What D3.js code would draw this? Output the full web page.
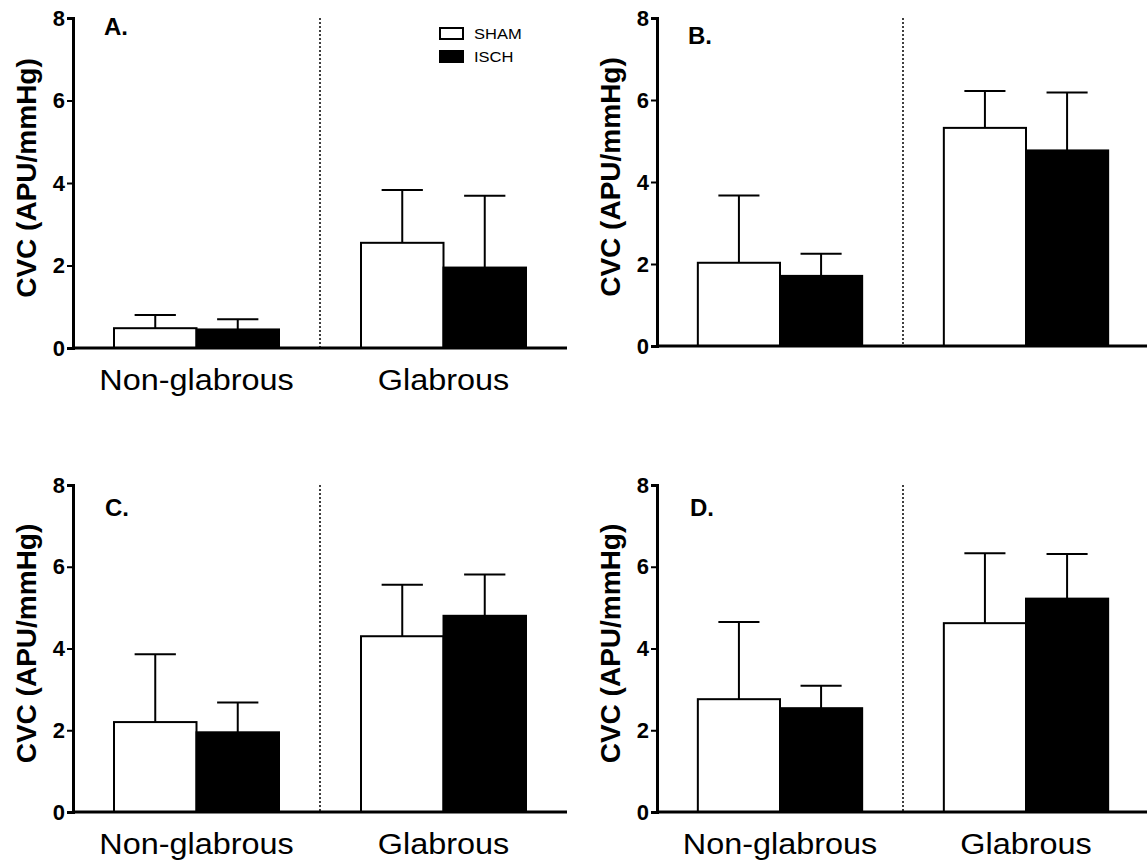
<!DOCTYPE html>
<html lang="en">
<head>
    <meta charset="UTF-8">
    <title>CVC by site</title>
    <script src="https://cdn.jsdelivr.net/npm/d3@7"></script>
    <style>
        body { margin: 0; background: #fff; font-family: "Liberation Sans", Arial, Helvetica, sans-serif; }
        svg { display: block; }
    </style>
</head>
<body>
<script>
    // data
    var sites = ["Non-glabrous", "Glabrous"];
    var groups = ["SHAM", "ISCH"];
    var panelLabels = ["A.", "B.", "C.", "D."];
    var yTicks = [0, 2, 4, 6, 8];

    // mean values, [panel][site] -> [SHAM, ISCH]
    var meanA = [[0.48, 0.45], [2.55, 1.95]];
    var meanB = [[2.03, 1.71], [5.32, 4.77]];
    var meanC = [[2.20, 1.95], [4.30, 4.80]];
    var meanD = [[2.76, 2.54], [4.62, 5.22]];
    // top of the error bar (mean + SD)
    var errA = [[0.80, 0.70], [3.83, 3.69]];
    var errB = [[3.67, 2.25], [6.22, 6.18]];
    var errC = [[3.86, 2.68], [5.56, 5.81]];
    var errD = [[4.65, 3.09], [6.33, 6.31]];

    var means = [meanA, meanB, meanC, meanD];
    var errs = [errA, errB, errC, errD];

    // panel layout (axis origin etc.)
    var panels = [
        {x0: 73, x1: 567, top: 18, bottom: 348, lx: 104, ly: 35, cats: true, legend: true},
        {x0: 657, x1: 1149, top: 18, bottom: 346, lx: 688, ly: 44, cats: false, legend: false},
        {x0: 73, x1: 567, top: 485, bottom: 812, lx: 105, ly: 516, cats: true, legend: false},
        {x0: 657, x1: 1149, top: 485, bottom: 812, lx: 690, ly: 516, cats: true, legend: false}
    ];

    var svg = d3.select("body").append("svg")
        .attr("width", 1147)
        .attr("height", 867);

    panels.forEach(function(p, i) {
        var g = svg.append("g");

        var x = d3.scaleBand().domain(sites).range([p.x0, p.x1]).padding(0);
        var xs = d3.scaleBand().domain(groups)
            .range([x.bandwidth() * 0.166, x.bandwidth() * 0.834]).padding(0);
        var y = d3.scaleLinear().domain([0, 8]).range([p.bottom, p.top]);

        var rows = [];
        sites.forEach(function(s, si) {
            groups.forEach(function(gr, gi) {
                rows.push({site: s, group: gr, v: means[i][si][gi], e: errs[i][si][gi]});
            });
        });

        // dotted divider between the two sites
        g.append("line")
            .attr("x1", x("Glabrous")).attr("x2", x("Glabrous"))
            .attr("y1", y(8)).attr("y2", y(0))
            .attr("stroke", "#000")
            .attr("stroke-width", 1.5)
            .attr("stroke-dasharray", "2,2");

        // error bars (upper only)
        var eb = g.selectAll(".err").data(rows).enter().append("g").attr("class", "err");
        eb.append("line")
            .attr("x1", d => x(d.site) + xs(d.group) + xs.bandwidth() / 2)
            .attr("x2", d => x(d.site) + xs(d.group) + xs.bandwidth() / 2)
            .attr("y1", d => y(d.v)).attr("y2", d => y(d.e))
            .attr("stroke", "#000").attr("stroke-width", 2);
        eb.append("line")
            .attr("x1", d => x(d.site) + xs(d.group) + xs.bandwidth() / 4)
            .attr("x2", d => x(d.site) + xs(d.group) + xs.bandwidth() * 3 / 4)
            .attr("y1", d => y(d.e)).attr("y2", d => y(d.e))
            .attr("stroke", "#000").attr("stroke-width", 2);

        // bars
        g.selectAll("rect.bar").data(rows).enter().append("rect")
            .attr("class", "bar")
            .attr("x", d => x(d.site) + xs(d.group))
            .attr("y", d => y(d.v))
            .attr("width", xs.bandwidth())
            .attr("height", d => y(0) - y(d.v))
            .attr("fill", d => d.group === "SHAM" ? "#fff" : "#000")
            .attr("stroke", "#000")
            .attr("stroke-width", 2);

        // y axis
        var ya = g.append("g")
            .attr("transform", "translate(" + p.x0 + ",0)")
            .call(d3.axisLeft(y).tickValues(yTicks).tickSize(6).tickPadding(2));
        ya.select(".domain").attr("stroke-width", 3);
        ya.selectAll(".tick line").attr("stroke-width", 2);
        ya.selectAll(".tick text")
            .attr("font-family", "'Liberation Sans', Arial, sans-serif")
            .attr("font-weight", "bold")
            .attr("font-size", 22)
            .attr("fill", "#000");

        // x axis line
        g.append("line")
            .attr("x1", p.x0 - 1).attr("x2", p.x1)
            .attr("y1", y(0)).attr("y2", y(0))
            .attr("stroke", "#000").attr("stroke-width", 3);

        // y title
        g.append("text")
            .attr("transform", "translate(" + (p.x0 - 37) + "," + ((p.top + p.bottom) / 2 - 5) + ") rotate(-90)")
            .attr("text-anchor", "middle")
            .style("font-weight", "bold")
            .style("font-size", "28px")
            .text("CVC (APU/mmHg)");

        // panel letter
        g.append("text")
            .attr("x", p.lx).attr("y", p.ly)
            .style("font-weight", "bold")
            .style("font-size", "24px")
            .text(panelLabels[i]);

        // category labels
        if (p.cats) {
            sites.forEach(function(s) {
                g.append("text")
                    .attr("transform", "translate(" + (x(s) + x.bandwidth() / 2) + "," + (y(0) + 42) + ") scale(1.08,1)")
                    .attr("text-anchor", "middle")
                    .style("font-size", "30px")
                    .text(s);
            });
        }

        // legend
        if (p.legend) {
            var lg = g.append("g").attr("transform", "translate(440,28)");
            groups.forEach(function(gr, gi) {
                lg.append("rect")
                    .attr("x", 0).attr("y", gi * 23)
                    .attr("width", 23).attr("height", 11)
                    .attr("fill", gr === "SHAM" ? "#fff" : "#000")
                    .attr("stroke", "#000").attr("stroke-width", 2);
                lg.append("text")
                    .attr("transform", "translate(34," + (gi * 23 + 11) + ") scale(1.1,1)")
                    .style("font-size", "15px")
                    .text(gr);
            });
        }
    });
</script>
</body>
</html>
